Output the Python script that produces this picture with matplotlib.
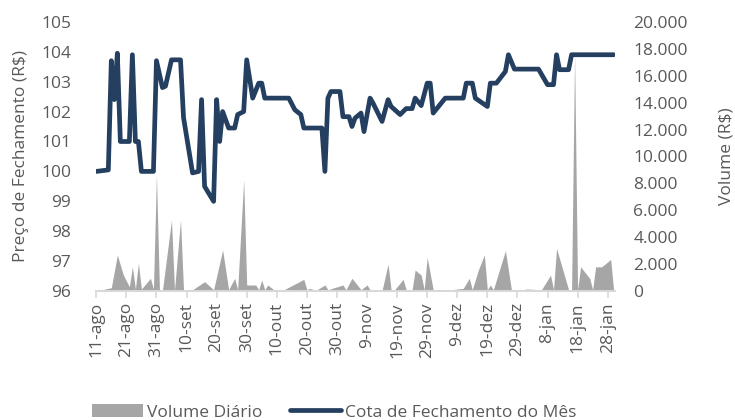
import matplotlib
matplotlib.use("Agg")
import matplotlib.pyplot as plt
import matplotlib.dates as mdates
from matplotlib.ticker import FuncFormatter
from matplotlib.patches import Patch
from matplotlib.lines import Line2D
import numpy as np
import pandas as pd

# ---- dados (dias contados a partir de 11-ago) ----
inicio = pd.Timestamp("2020-08-11")
fim_dias = 172.5

preco_dias = [0, 4, 5, 6, 7, 8, 11, 12, 13, 14, 15, 19, 20, 22, 23, 25, 28, 29, 32, 34,
              35, 36, 39, 40, 41, 42, 44, 46, 47, 49, 50, 52, 54, 55, 56, 64, 66, 68, 69, 75,
              76, 77, 78, 81, 82, 84, 85, 86, 88, 89, 91, 92, 95, 97, 98, 101, 103, 105, 106, 108,
              110, 111, 112, 116, 122, 123, 125, 126, 130, 131, 133, 136, 137, 139, 147, 150, 152, 153, 154, 157,
              158, 172]
preco = [100.0, 100.05, 103.7, 102.4, 103.95, 101.0, 101.0, 103.9, 101.0, 101.0, 100.0, 100.0, 103.7, 102.8, 102.85, 103.73, 103.73, 101.8, 99.95, 100.0,
         102.4, 99.5, 99.0, 102.4, 101.0, 102.0, 101.45, 101.45, 101.9, 102.0, 103.73, 102.45, 102.95, 102.95, 102.45, 102.45, 102.06, 101.9, 101.45, 101.45,
         100.0, 102.45, 102.67, 102.67, 101.83, 101.83, 101.5, 101.78, 101.95, 101.33, 102.45, 102.28, 101.67, 102.4, 102.17, 101.9, 102.1, 102.1, 102.45, 102.2,
         102.95, 102.95, 101.95, 102.45, 102.45, 102.95, 102.95, 102.45, 102.17, 102.95, 102.95, 103.34, 103.9, 103.42, 103.42, 102.9, 102.9, 103.9, 103.4, 103.4,
         103.9, 103.9]

vol_dias = [0, 5, 7, 9, 11, 12, 13, 14, 15, 18, 19, 20, 21, 22, 25, 26, 28, 29, 32, 36,
            39, 42, 44, 46, 47, 49, 50, 53, 54, 55, 56, 57, 59, 62, 69, 70, 71, 73, 76, 77,
            82, 83, 85, 88, 90, 91, 95, 97, 98, 99, 102, 103, 105, 106, 108, 109, 110, 112, 116, 122,
            124, 125, 127, 129, 130, 131, 132, 136, 138, 141, 143, 148, 151, 152, 153, 157, 158, 159, 160, 161,
            164, 165, 166, 168, 171, 172]
volume = [0, 250, 2680, 1190, 320, 1800, 150, 2060, 150, 950, 150, 8600, 50, 50, 5280, 50, 5280, 100, 100, 700,
          100, 3050, 100, 950, 100, 8250, 450, 450, 100, 820, 100, 450, 100, 50, 870, 100, 200, 50, 450, 100,
          450, 100, 950, 100, 450, 100, 50, 2000, 100, 50, 870, 100, 100, 1560, 1190, 100, 2500, 100, 50, 200,
          950, 100, 1560, 2680, 100, 450, 100, 3000, 100, 50, 150, 100, 1190, 100, 3170, 100, 100, 17600, 100, 1800,
          950, 100, 1800, 1800, 2350, 0]

meses = ["jan", "fev", "mar", "abr", "mai", "jun", "jul", "ago", "set", "out", "nov", "dez"]

cor_linha = "#243F60"
cor_area = "#A6A6A6"
cor_texto = "#595959"

plt.rcParams["font.family"] = ["Open Sans", "DejaVu Sans"]
plt.rcParams["font.size"] = 12.5

x_preco = inicio + pd.to_timedelta(preco_dias, unit="D")
x_vol = inicio + pd.to_timedelta(vol_dias, unit="D")

fig = plt.figure(figsize=(7.35, 4.2), dpi=100)
ax = fig.add_axes([0.131, 0.307, 0.706, 0.641])
ax2 = ax.twinx()

ax2.fill_between(x_vol, volume, 0, color=cor_area, linewidth=0)
ax.plot(x_preco, preco, color=cor_linha, linewidth=3.4, solid_joinstyle="round", solid_capstyle="round")

# linha por cima da area
ax.set_zorder(ax2.get_zorder() + 1)
ax.patch.set_visible(False)

ax.set_xlim(inicio, inicio + pd.Timedelta(days=fim_dias))
ax.set_ylim(96, 105)
ax.set_yticks(np.arange(96, 106, 1))
ax2.set_ylim(0, 20000)
ax2.set_yticks(np.arange(0, 20001, 2000))
ax2.yaxis.set_major_formatter(FuncFormatter(lambda v, p: f"{int(v):,}".replace(",", ".")))

ticks = inicio + pd.to_timedelta(np.arange(0, 173, 10), unit="D")
ax.set_xticks(ticks)
ax.xaxis.set_major_formatter(FuncFormatter(
    lambda v, p: f"{mdates.num2date(v).day}-{meses[mdates.num2date(v).month - 1]}"))
plt.setp(ax.get_xticklabels(), rotation=90)

for a in (ax, ax2):
    for s in ("top", "left", "right"):
        a.spines[s].set_visible(False)
    a.spines["bottom"].set_color("#D9D9D9")
    a.spines["bottom"].set_linewidth(1.2)
ax.tick_params(axis="x", colors="#D9D9D9", labelcolor=cor_texto, length=5, width=1.2, pad=3)
ax.tick_params(axis="y", length=0, pad=18, labelcolor=cor_texto)
ax2.tick_params(axis="y", length=0, pad=13, labelcolor=cor_texto)
ax2.tick_params(axis="x", length=0)

ax.set_ylabel("Preço de Fechamento (R$)", color=cor_texto)
ax2.set_ylabel("Volume (R$)", color=cor_texto, rotation=90)
ax.yaxis.set_label_coords(-0.13, 0.5)
ax2.yaxis.set_label_coords(1.2, 0.5)

alcas = [Patch(facecolor=cor_area, edgecolor="none"),
         Line2D([], [], color=cor_linha, linewidth=3.4, solid_capstyle="round")]
fig.legend(alcas, ["Volume Diário", "Cota de Fechamento do Mês"], ncol=2, frameon=False,
           loc="center", bbox_to_anchor=(0.455, 0.018), handlelength=2.9, handletextpad=0.25,
           columnspacing=1.6, labelcolor=cor_texto)

fig.savefig("out.png", dpi=100)
